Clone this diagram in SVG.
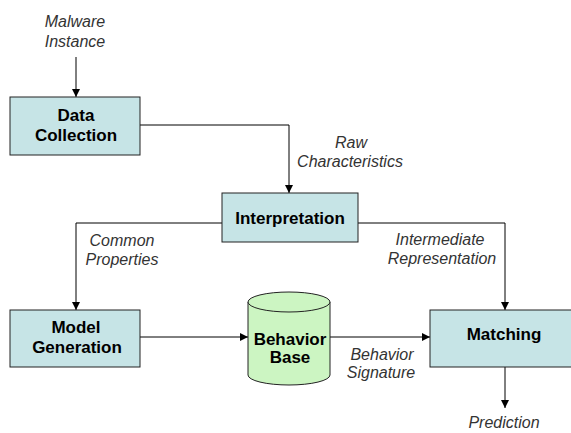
<svg xmlns="http://www.w3.org/2000/svg" width="571" height="433" viewBox="0 0 571 433">
<style>
.box{fill:#c6e4e6;stroke:#222;stroke-width:1}
.lb{font-family:"Liberation Sans",Arial,sans-serif;font-size:17px;font-weight:bold;fill:#000;text-anchor:middle}
.it{font-family:"Liberation Sans",Arial,sans-serif;font-size:16px;font-style:italic;fill:#333;text-anchor:middle}
.ln{fill:none;stroke:#000;stroke-width:1}
</style>
<defs>
<marker id="ah" viewBox="0 0 10 10" refX="10" refY="5" markerWidth="8" markerHeight="8" markerUnits="userSpaceOnUse" orient="auto">
<path d="M0,0L10,5L0,10z" fill="#000"/>
</marker>
</defs>
<rect width="571" height="433" fill="#fff"/>
<g id="connectors">
<line class="ln" x1="76" y1="57" x2="76" y2="97" marker-end="url(#ah)"/>
<polyline class="ln" points="140,125 289,125 289,193" marker-end="url(#ah)"/>
<polyline class="ln" points="222,223 76,223 76,310" marker-end="url(#ah)"/>
<polyline class="ln" points="358,223 505,223 505,310" marker-end="url(#ah)"/>
<line class="ln" x1="140" y1="337" x2="248" y2="337" marker-end="url(#ah)"/>
<line class="ln" x1="330" y1="337" x2="430" y2="337" marker-end="url(#ah)"/>
<line class="ln" x1="505" y1="367" x2="505" y2="408" marker-end="url(#ah)"/>
</g>
<g id="labels">
<text class="it" x="75" y="27">Malware</text>
<text class="it" x="75" y="47">Instance</text>
<text class="it" x="351" y="148">Raw</text>
<text class="it" x="350" y="167">Characteristics</text>
<text class="it" x="122" y="246">Common</text>
<text class="it" x="122" y="265">Properties</text>
<text class="it" x="440" y="245">Intermediate</text>
<text class="it" x="442" y="264">Representation</text>
<text class="it" x="382" y="360">Behavior</text>
<text class="it" x="381" y="378">Signature</text>
<text class="it" x="504" y="428">Prediction</text>
</g>
<g id="data-collection">
<rect class="box" x="10" y="97" width="130" height="58"/>
<text class="lb" x="76" y="121">Data</text>
<text class="lb" x="76" y="141">Collection</text>
</g>
<g id="interpretation">
<rect class="box" x="222" y="193" width="136" height="49"/>
<text class="lb" x="290" y="224">Interpretation</text>
</g>
<g id="model-generation">
<rect class="box" x="10" y="310" width="130" height="57"/>
<text class="lb" x="76" y="333">Model</text>
<text class="lb" x="77" y="353">Generation</text>
</g>
<g id="behavior-base">
<path d="M248,302 L248,375 A41,10 0 0 0 330,375 L330,302" fill="#ccf5c2" stroke="#222"/>
<ellipse cx="289" cy="302" rx="41" ry="10" fill="#ccf5c2" stroke="#222"/>
<text class="lb" x="290" y="345">Behavior</text>
<text class="lb" x="290" y="363">Base</text>
</g>
<g id="matching">
<rect class="box" x="430" y="310" width="148" height="57"/>
<text class="lb" x="504" y="340">Matching</text>
</g>
</svg>
